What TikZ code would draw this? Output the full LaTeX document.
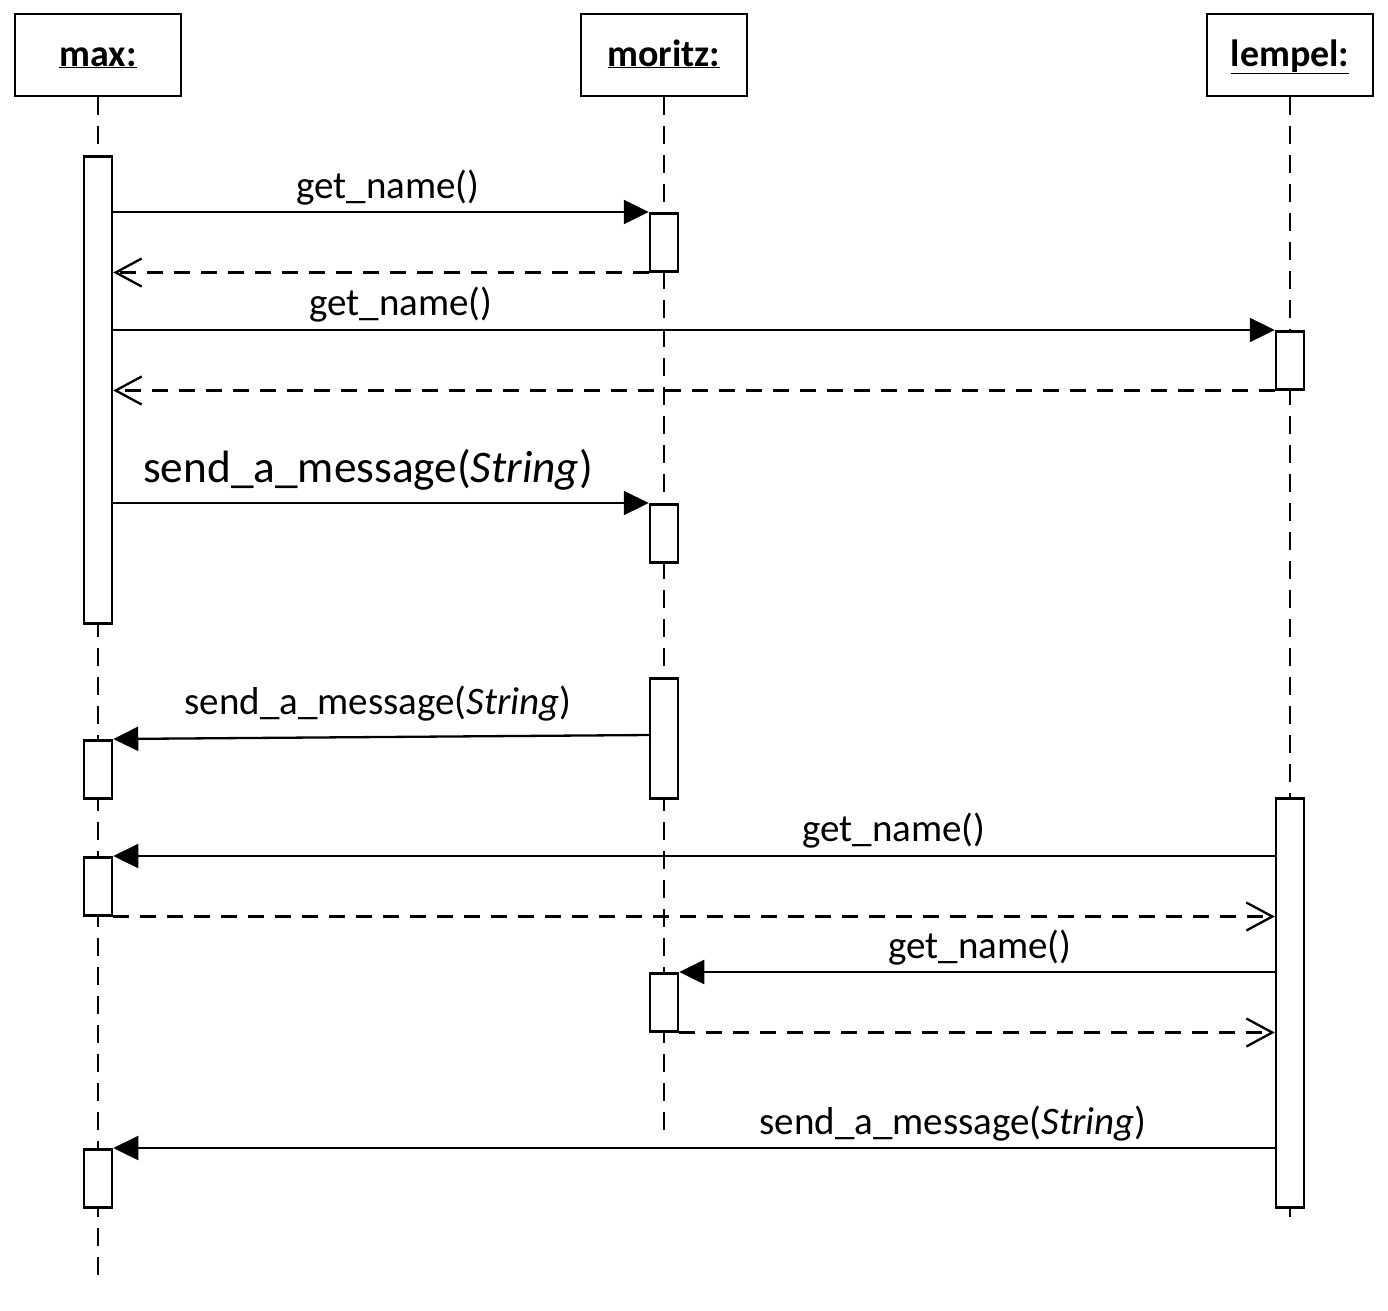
\documentclass[tikz,border=0pt]{standalone}
\usepackage{fontspec}
\setmainfont{Carlito}
\usetikzlibrary{arrows.meta,calc}
\begin{document}
\begin{tikzpicture}[x=1pt,y=-1pt,
 head/.style={draw, line width=2.5pt, minimum width=166pt, minimum height=82pt, inner sep=0pt, text height=30pt, text depth=8pt, font=\fontsize{38}{46}\selectfont\bfseries},
 act/.style={draw, fill=white, line width=2.5pt, minimum width=28pt, inner sep=0pt, anchor=north},
 life/.style={line width=2.3pt, dash pattern=on 18pt off 11pt},
 call/.style={line width=2.3pt, -{Triangle[length=25pt,width=24pt]}},
 ret/.style={line width=2.3pt, dash pattern=on 16pt off 11pt, -{Straight Barb[length=26pt,width=28pt,line width=2.3pt]}},
 lbl/.style={anchor=base, inner sep=0pt, font=\fontsize{39}{47}\selectfont},
 biglbl/.style={anchor=base, inner sep=0pt, font=\fontsize{45.3}{54}\selectfont}]
\useasboundingbox (0,0) rectangle (1388,1310);

% headers
\node[head] (max) at (98,55) {\underline{max:}};
\node[head] (moritz) at (664,55) {\underline{moritz:}};
\node[head] (lempel) at (1290,55) {\underline{lempel:}};

% lifeline ends
\coordinate (maxend) at (98,1280);
\coordinate (moritzend) at (664,1130);
\coordinate (lempelend) at (1290,1218);

\draw[life] (max.south) -- (maxend);
\draw[life] (moritz.south) -- (moritzend);
\draw[life] (lempel.south) -- (lempelend);

% activations
\node[act, minimum height=467pt] (a1) at (98,155) {};
\node[act, minimum height=58pt] (a2) at (98,739) {};
\node[act, minimum height=58pt] (a3) at (98,856) {};
\node[act, minimum height=58pt] (a4) at (98,1148) {};
\node[act, minimum height=58pt] (m1) at (664,212) {};
\node[act, minimum height=58pt] (m2) at (664,503) {};
\node[act, minimum height=120pt] (m3) at (664,677) {};
\node[act, minimum height=58pt] (m4) at (664,972) {};
\node[act, minimum height=58pt] (l1) at (1290,330) {};
\node[act, minimum height=409pt] (l2) at (1290,797) {};

% messages
\draw[call] (a1.east |- m1.north) -- (m1.north west);
\draw[ret] (m1.south west) -- (m1.south west -| a1.east);
\draw[call] (a1.east |- l1.north) -- (l1.north west);
\draw[ret] (l1.south west) -- (l1.south west -| a1.east);
\draw[call] (a1.east |- m2.north) -- (m2.north west);
\draw[call] ($(m3.north west)+(0,58)$) -- (a2.north east);
\draw[call] (l2.west |- a3.north) -- (a3.north east);
\draw[ret] (a3.south east) -- (a3.south east -| l2.west);
\draw[call] (l2.west |- m4.north) -- (m4.north east);
\draw[ret] (m4.south east) -- (m4.south east -| l2.west);
\draw[call] (l2.west |- a4.north) -- (a4.north east);

% labels
\node[lbl] (t1) at (388,198) {get\_name()};
\node[lbl] (t2) at (401,315) {get\_name()};
\node[biglbl] (t3) at (368,482) {send\_a\_message(\textit{String})};
\node[lbl] (t4) at (378,714) {send\_a\_message(\textit{String})};
\node[lbl] (t5) at (894,841) {get\_name()};
\node[lbl] (t6) at (980,958) {get\_name()};
\node[lbl] (t7) at (953,1134) {send\_a\_message(\textit{String})};
\end{tikzpicture}
\end{document}
